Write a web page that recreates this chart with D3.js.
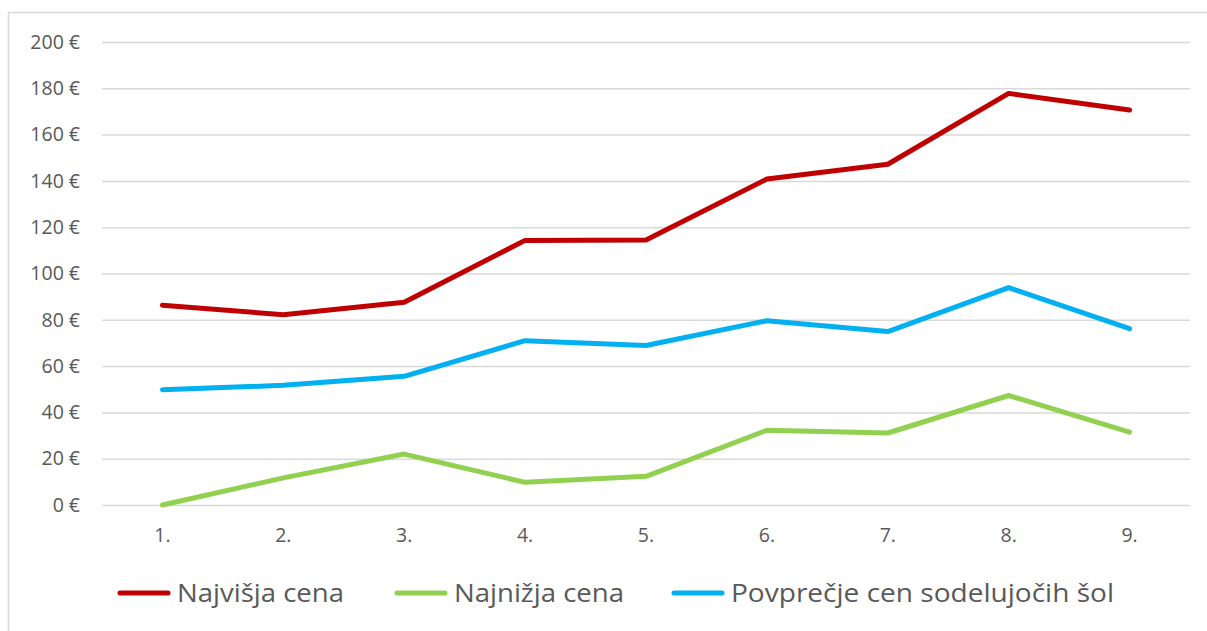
<!DOCTYPE html>
<html>
<head>
<meta charset="utf-8">
<script src="https://cdn.jsdelivr.net/npm/d3@7"></script>
<style>
  body { margin: 0; background: #fff; }
  svg text { font-family: "Open Sans", "Noto Sans", sans-serif; fill: #595959; }
</style>
</head>
<body>
<svg id="chart"></svg>
<script>
// data
const categories = ["1.", "2.", "3.", "4.", "5.", "6.", "7.", "8.", "9."];
const najvisja = [86.3, 82.2, 87.6, 114.3, 114.5, 140.8, 147.2, 177.8, 170.6];
const najnizja = [0, 11.7, 22, 9.8, 12.4, 32.3, 31.1, 47.3, 31.5];
const povprecje = [49.8, 51.7, 55.6, 71, 68.9, 79.6, 74.9, 93.9, 76.2];
const yTicks = [0, 20, 40, 60, 80, 100, 120, 140, 160, 180, 200];

const series = [
  {name: "Najvišja cena", values: najvisja, col: "#C00000"},
  {name: "Najnižja cena", values: najnizja, col: "#92D050"},
  {name: "Povprečje cen sodelujočih šol", values: povprecje, col: "#00B0F0"}
];

function main() {
  const width = 1207, height = 631;
  const plot = {left: 102, right: 1190, top: 42, bottom: 505};

  const svg = d3.select("#chart")
    .attr("width", width)
    .attr("height", height);

  // chart frame
  svg.append("rect")
    .attr("x", 8.5).attr("y", 12.5)
    .attr("width", 1210).attr("height", 640)
    .attr("fill", "none")
    .attr("stroke", "#d9d9d9")
    .attr("stroke-width", 1.5);

  const x = d3.scaleBand()
    .domain(categories)
    .range([plot.left, plot.right]);

  const y = d3.scaleLinear()
    .domain([0, 200])
    .range([plot.bottom, plot.top]);

  // gridlines + y labels
  const yAxis = svg.append("g")
    .attr("transform", `translate(${plot.left},0)`)
    .call(d3.axisLeft(y).tickValues(yTicks)
      .tickSize(-(plot.right - plot.left))
      .tickPadding(22)
      .tickFormat(d => d + " €"));
  yAxis.select(".domain").remove();
  yAxis.selectAll("line").attr("stroke", "#d9d9d9").attr("stroke-width", 1.5);
  yAxis.selectAll("text")
    .attr("font-size", 19.5)
    .style("fill", "#595959");

  // x labels
  const xAxis = svg.append("g")
    .attr("transform", `translate(0,${plot.bottom})`)
    .call(d3.axisBottom(x).tickSize(0).tickPadding(23));
  xAxis.select(".domain").remove();
  xAxis.selectAll("text")
    .attr("font-size", 19.5)
    .style("fill", "#595959");

  const line = d3.line()
    .x((d, i) => x(categories[i]) + x.bandwidth() / 2)
    .y(d => y(d));

  svg.append("g")
    .selectAll("path")
    .data(series)
    .enter()
    .append("path")
      .attr("d", d => line(d.values))
      .attr("fill", "none")
      .attr("stroke", d => d.col)
      .attr("stroke-width", 5)
      .attr("stroke-linejoin", "round")
      .attr("stroke-linecap", "round");

  // legend
  const legX = [120, 397, 674];
  const leg = svg.append("g")
    .selectAll("g")
    .data(series)
    .enter()
    .append("g")
      .attr("transform", (d, i) => `translate(${legX[i]},593)`);
  leg.append("line")
    .attr("x1", 0).attr("x2", 48)
    .attr("stroke", d => d.col)
    .attr("stroke-width", 5)
    .attr("stroke-linecap", "round");
  leg.append("text")
    .attr("x", 57)
    .attr("dy", "0.35em")
    .attr("font-size", 25)
    .attr("textLength", (d, i) => [167, 170, 383][i])
    .attr("lengthAdjust", "spacingAndGlyphs")
    .text(d => d.name);
}

window.addEventListener("load", main);
</script>
</body>
</html>
